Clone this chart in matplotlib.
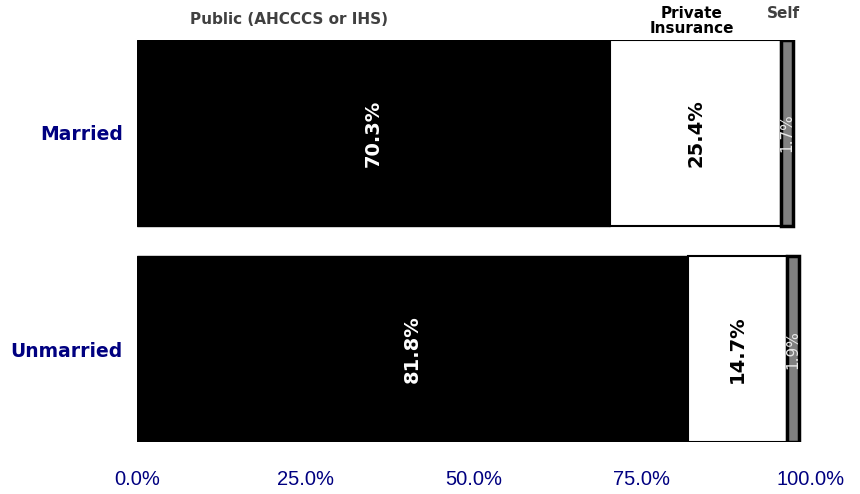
import matplotlib.pyplot as plt

# values (percent of births, by marital status)
groups = ["Married", "Unmarried"]
public_v = [70.3, 81.8]
private_v = [25.4, 14.7]
self_v = [1.7, 1.9]
xtick_v = [0, 25, 50, 75, 100]

NAVY = "#000080"

fig = plt.figure(figsize=(8.6, 4.94), dpi=100)
ax = fig.add_axes([0.159, 0.105, 0.783, 0.814])

ypos = list(range(len(groups)))
h = 0.86

left_private = public_v
left_self = [a + b for a, b in zip(public_v, private_v)]

ax.barh(ypos, public_v, height=h, color="black", edgecolor="black", linewidth=1)
ax.barh(ypos, private_v, left=left_private, height=h, color="white",
        edgecolor="black", linewidth=1.5)
ax.barh(ypos, self_v, left=left_self, height=h, color="#808080",
        edgecolor="black", linewidth=2.5)

# value labels inside the bars
for y, pub, pri, slf, lp, ls in zip(ypos, public_v, private_v, self_v,
                                    left_private, left_self):
    ax.text(pub / 2, y, f"{pub:.1f}%", rotation=90, ha="center", va="center",
            color="white", fontsize=14, fontweight="bold")
    ax.text(lp + pri / 2, y, f"{pri:.1f}%", rotation=90, ha="center",
            va="center", color="black", fontsize=14, fontweight="bold")
    ax.text(ls + slf / 2, y, f"{slf:.1f}%", rotation=90, ha="center",
            va="center", color="#e8e8e8", fontsize=11)

ax.set_xlim(0, 100)
ax.set_ylim(1 + h / 2, -h / 2)
ax.set_yticks(ypos)
ax.set_yticklabels(groups, color=NAVY, fontsize=13.5, fontweight="bold")
ax.set_xticks(xtick_v)
ax.set_xticklabels([f"{v:.1f}%" for v in xtick_v], color=NAVY, fontsize=14.5,
                   family="Liberation Sans")
ax.tick_params(axis="x", length=0, pad=20)
ax.tick_params(axis="y", length=0, pad=10)
for s in ax.spines.values():
    s.set_visible(False)

# segment headers above the chart
fig.text(289 / 860, 1 - 20 / 494, "Public (AHCCCS or IHS)", ha="center",
         va="center", color="#404040", fontsize=11, fontweight="bold")
fig.text(692 / 860, 1 - 21 / 494, "Private\nInsurance", ha="center",
         va="center", color="black", fontsize=11, fontweight="bold",
         linespacing=1.0)
fig.text(783 / 860, 1 - 13 / 494, "Self", ha="center", va="center",
         color="#404040", fontsize=11, fontweight="bold")

fig.savefig("out.png", dpi=100)
